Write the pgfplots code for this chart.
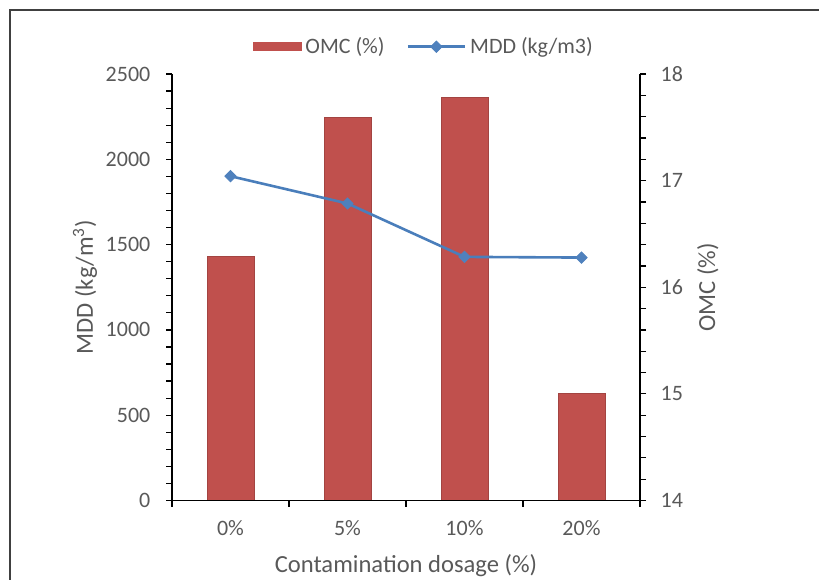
\documentclass[border=0pt]{standalone}
\usepackage{pgfplots}
\pgfplotsset{compat=1.18}
\usepackage{fontspec}
\setmainfont{Carlito}
\definecolor{barred}{HTML}{C0504D}
\definecolor{lineblue}{HTML}{4A7EBB}
\definecolor{markblue}{HTML}{4F81BD}
\definecolor{txt}{HTML}{595959}
\definecolor{frame}{HTML}{404040}
\begin{document}
\begin{tikzpicture}
\useasboundingbox (0,0) rectangle (409.5pt,289.5pt);
\draw[line width=1pt, color=frame] (5pt,-2pt) -- (5pt,284.5pt) -- (412pt,284.5pt);
\pgfplotsset{common/.style={
  at={(86pt,39.25pt)}, anchor=south west, scale only axis,
  width=234pt, height=213.25pt,
  xmin=-0.5, xmax=3.5,
  tick align=outside,
  major tick length=3pt, minor tick length=3pt,
  tick style={black, line width=0.6pt},
  axis line style={black, line width=0.6pt},
  tick label style={font=\fontsize{11}{13}\selectfont, text=txt},
  /pgf/number format/assume math mode=true,
  /pgf/number format/set thousands separator={},
  every axis x label/.style={at={(axis description cs:0.5,-0.152)}, anchor=center, font=\fontsize{12.3}{14}\selectfont, text=txt},
}}
% bars on right axis
\begin{axis}[common,
  axis y line*=right, axis x line=none,
  ymin=14, ymax=18, ytick={14,15,16,17,18}, minor y tick num=4,
  yticklabel style={xshift=3.8pt},
  every axis y label/.style={at={(axis description cs:1.145,0.5)}, anchor=center, rotate=90, font=\fontsize{12.3}{14}\selectfont, text=txt},
  ylabel={OMC (\%)},
  ybar, bar width=23.5pt,
]
\addplot[fill=barred, draw=barred!85!black, line width=0.4pt] coordinates {(0,16.29) (1,17.59) (2,17.78) (3,15.0)};
\end{axis}
% line on left axis
\begin{axis}[common,
  axis y line*=left, axis x line*=bottom,
  ymin=0, ymax=2500, ytick={0,500,1000,1500,2000,2500}, minor y tick num=4,
  yticklabel style={xshift=-4.3pt},
  xtick={0,1,2,3}, xticklabels={0\%,5\%,10\%,20\%},
  major x tick style={draw=none},
  minor xtick={-0.5,0.5,1.5,2.5,3.5},
  xticklabel style={yshift=-3.5pt},
  every axis y label/.style={at={(axis description cs:-0.186,0.5)}, anchor=center, rotate=90, font=\fontsize{12.3}{14}\selectfont, text=txt},
  ylabel={MDD (kg/m\textsuperscript{3})},
  xlabel={Contamination dosage (\%)},
  legend style={at={(0.54,1.064)}, anchor=center, draw=none, fill=none,
    legend columns=2, font=\fontsize{11}{13}\selectfont, text=txt,
    /tikz/every even column/.append style={column sep=9pt}},
  legend image code/.code={\draw[mark repeat=2, mark phase=2, #1] plot coordinates {(0pt,0pt) (14.25pt,0pt) (28.5pt,0pt)};},
]
\addlegendimage{legend image code/.code={\draw[fill=barred, draw=barred] (0pt,-2pt) rectangle (24pt,2pt);}}
\addlegendentry{OMC (\%)}
\addplot[color=lineblue, line width=1.3pt, mark=square*, mark size=2pt,
  mark options={rotate=45, fill=markblue, draw=markblue, line width=0.4pt}]
  coordinates {(0,1901) (1,1741) (2,1428) (3,1424)};
\addlegendentry{MDD (kg/m3)}
\end{axis}
\end{tikzpicture}
\end{document}
